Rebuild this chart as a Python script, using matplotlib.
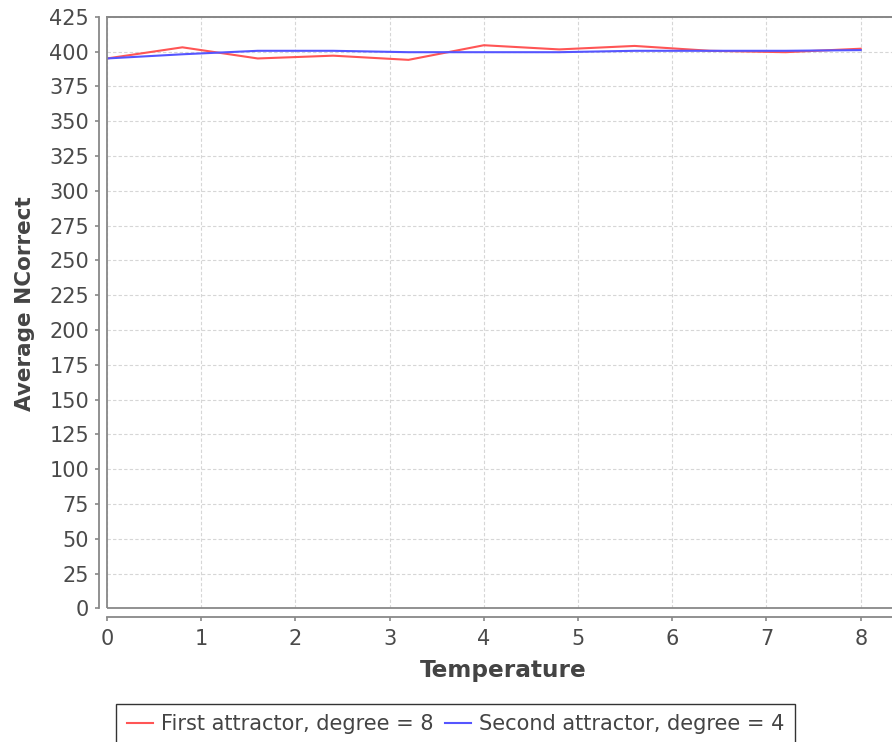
import matplotlib
matplotlib.use("Agg")
import matplotlib.pyplot as plt
from matplotlib.patches import Rectangle

# data
temperature = [0.0, 0.8, 1.6, 2.4, 3.2, 4.0, 4.8, 5.6, 6.4, 7.2, 8.0]
first_attractor = [395, 403, 395, 397, 394, 404.5, 401.5, 404, 400.5, 399.5, 402]
second_attractor = [395, 398, 400.5, 400.5, 399.5, 399.5, 399.5, 400.5, 400.5, 400.5, 401]
x_ticks = list(range(0, 9))
y_ticks = list(range(0, 426, 25))

W, H = 892, 742
fig = plt.figure(figsize=(W / 100, H / 100), dpi=100)
fig.patch.set_facecolor("white")

# plot area in pixels (right edge runs off the image like the reference)
left, top, bottom, right = 107, 16.7, 608.3, 900
ax = fig.add_axes([left / W, 1 - bottom / H, (right - left) / W, (bottom - top) / H])
ax.set_facecolor("white")

ax.plot(temperature, first_attractor, color="#ff5555", lw=1.5,
        label="First attractor, degree = 8")
ax.plot(temperature, second_attractor, color="#5555ff", lw=1.5,
        label="Second attractor, degree = 4")

ax.set_xlim(0, 8 * (right - left) / (860.7 - left))
ax.set_ylim(0, 425)
ax.set_xticks(x_ticks)
ax.set_yticks(y_ticks)

ax.grid(True, color="#d6d6d6", lw=0.8, linestyle=(0, (3, 2)))
ax.set_axisbelow(True)

axis_grey = "#888888"
for side in ["left", "bottom"]:
    ax.spines[side].set_position(("outward", 6))
    ax.spines[side].set_color(axis_grey)
    ax.spines[side].set_linewidth(1.3)
ax.spines["right"].set_visible(False)
ax.spines["top"].set_color(axis_grey)
ax.spines["top"].set_linewidth(1.3)

# plot border (JFreeChart style, separate from axis lines)
ax.add_patch(Rectangle((0, 0), 1, 1, transform=ax.transAxes, fill=False,
                       edgecolor=axis_grey, lw=1.3, clip_on=False, zorder=5))

ax.tick_params(axis="both", colors=axis_grey, length=3, width=1.2,
               labelsize=15, labelcolor="#4a4a4a")
ax.tick_params(axis="y", pad=4)
ax.tick_params(axis="x", pad=6)

fig.text(25 / W, 1 - 304 / H, "Average NCorrect", rotation=90, ha="center",
         va="center", fontsize=15.5, fontweight="bold", color="#444444")
fig.text(503 / W, 1 - 670 / H, "Temperature", ha="center", va="center",
         fontsize=16.7, fontweight="bold", color="#444444")

# legend box runs off the bottom edge, as in the reference
leg = fig.legend(loc="upper center", bbox_to_anchor=(455.5 / W, 1 - 704 / H),
                 ncol=2, fontsize=15, frameon=True, fancybox=False,
                 handlelength=1.25, handletextpad=0.38, columnspacing=0.58,
                 borderpad=0.5, borderaxespad=0)
leg.get_frame().set_edgecolor("black")
leg.get_frame().set_linewidth(1.0)
for t in leg.get_texts():
    t.set_color("#444444")

fig.savefig("out.png", dpi=100)
